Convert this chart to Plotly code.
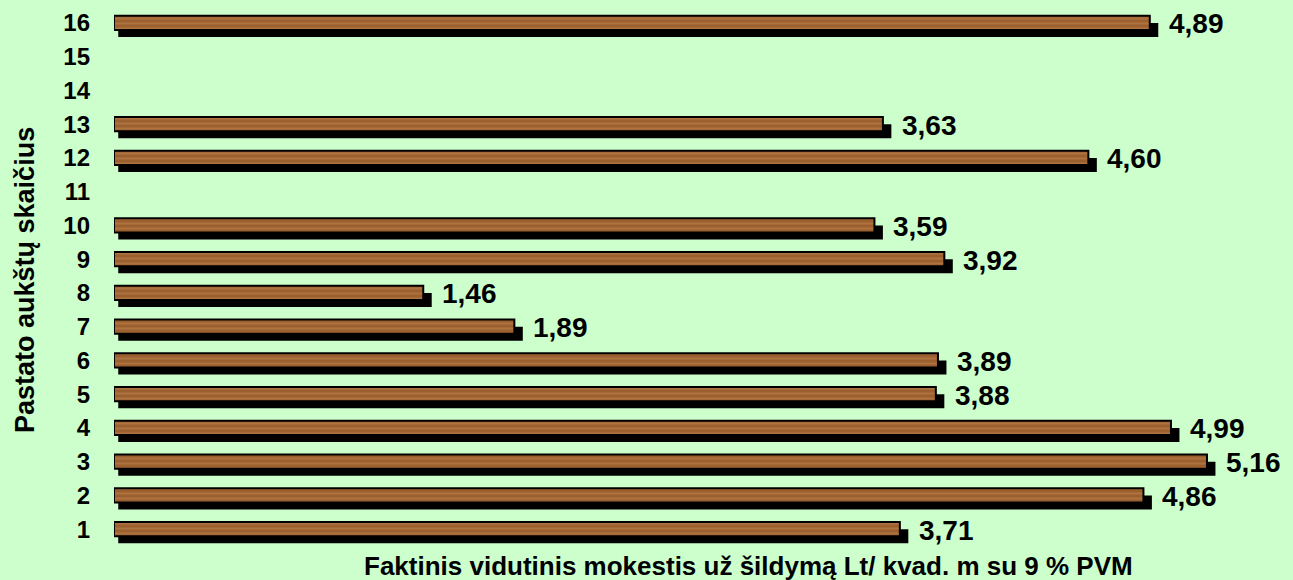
import plotly.graph_objects as go

categories = [str(i) for i in range(1, 17)]
values = [3.71, 4.86, 5.16, 4.99, 3.88, 3.89, 1.89, 1.46, 3.92, 3.59, None, 4.60, 3.63, None, None, 4.89]
labels = [None if v is None else f"{v:.2f}".replace(".", ",") for v in values]

BG = "#CCFFCC"
FONT = "Arial, Liberation Sans, sans-serif"
BAR_W = 0.42       # category units
SHADOW_DY = 0.21   # category units
SHADOW_DX = 0.02   # value units

fig = go.Figure()

# shadow bars
fig.add_trace(go.Bar(
    y=categories, x=[None if v is None else v + SHADOW_DX for v in values],
    base=SHADOW_DX, orientation="h",
    width=BAR_W, offset=-BAR_W / 2 - SHADOW_DY,
    marker=dict(color="black", line=dict(width=0)),
    hoverinfo="skip", showlegend=False,
))
# main wood bars
fig.add_trace(go.Bar(
    y=categories, x=values, orientation="h",
    width=BAR_W, offset=-BAR_W / 2,
    marker=dict(color="#9C5F2E", line=dict(color="black", width=2),
                pattern=dict(shape="-", fgcolor="#BE8752", bgcolor="#9C5F2E",
                             size=5, solidity=0.4, fillmode="overlay")),
    showlegend=False,
))

# value labels (category axis positions given as index)
for idx, (v, t) in enumerate(zip(values, labels)):
    if v is None:
        continue
    fig.add_annotation(
        x=v, y=idx, xref="x", yref="y", text=f"<b>{t}</b>",
        showarrow=False, xanchor="left", yanchor="middle", xshift=17, yshift=-1,
        font=dict(family=FONT, size=28, color="black"),
    )

# axis titles as annotations
fig.add_annotation(
    xref="paper", yref="paper", x=0.545, y=-0.037, xanchor="center", yanchor="middle",
    text="<b>Faktinis vidutinis mokestis už šildymą Lt/ kvad. m su 9 % PVM</b>",
    showarrow=False, font=dict(family=FONT, size=26, color="black"),
)
fig.add_annotation(
    xref="paper", yref="paper", x=-0.0764, y=0.4926, xanchor="center", yanchor="middle",
    text="<b>Pastato aukštų skaičius</b>", textangle=-90,
    showarrow=False, font=dict(family=FONT, size=27, color="black"),
)

fig.update_layout(
    width=1293, height=580,
    paper_bgcolor=BG, plot_bgcolor=BG,
    margin=dict(l=114, r=14, t=6, b=34),
    barmode="overlay",
    font=dict(family=FONT, color="black"),
)
fig.update_xaxes(
    range=[0, 5.5], showgrid=False, zeroline=False, showticklabels=False, ticks="",
    showline=False,
)
fig.update_yaxes(
    type="category", categoryorder="array", categoryarray=categories,
    range=[-0.5, 15.5], showgrid=False, zeroline=False, showline=False,
    tickfont=dict(size=24, weight="bold"), ticklabelstandoff=23,
)

fig.write_html("out.html", config={"displayModeBar": False},
               post_script="document.body.style.margin='0px';")
